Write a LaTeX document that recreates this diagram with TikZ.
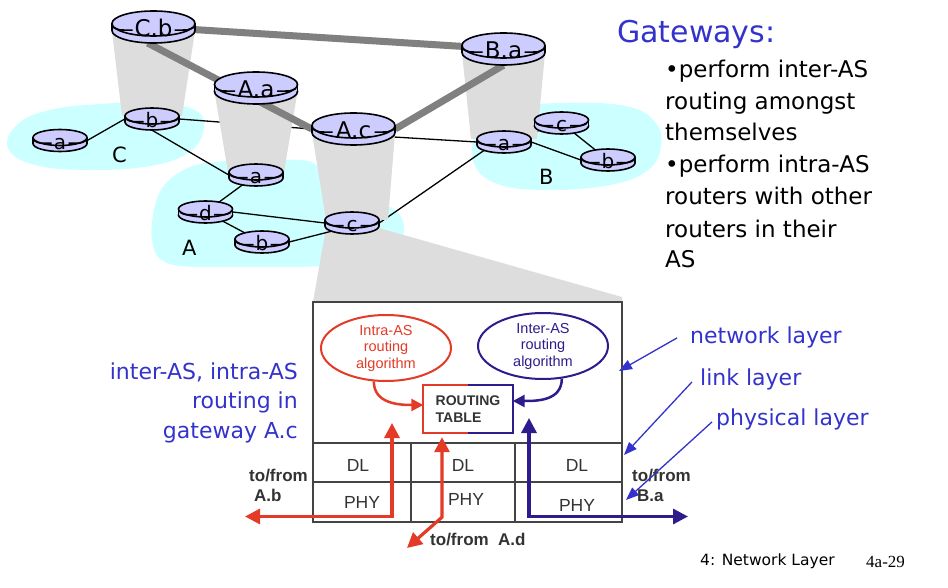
\documentclass[tikz,border=0pt]{standalone}
\usepackage{fontspec}
\setmainfont{DejaVu Sans}
\newfontfamily\boxfont{Liberation Sans}
\newfontfamily\slidefont{Liberation Serif}
\usetikzlibrary{arrows.meta,shapes.geometric,calc}
\pgfdeclarelayer{bg}
\pgfsetlayers{bg,main}

\definecolor{rtrfill}{HTML}{CCCCFF}
\definecolor{asfill}{HTML}{CCFFFF}
\definecolor{conefill}{HTML}{DDDDDD}
\definecolor{trunk}{HTML}{808080}
\definecolor{labelblue}{HTML}{3333CC}
\definecolor{intrared}{HTML}{E33B27}
\definecolor{interpurple}{HTML}{2F1C8C}
\definecolor{boxline}{HTML}{444444}
\definecolor{boxtext}{HTML}{333333}

\tikzset{
  rtrbody/.style={fill=rtrfill, draw=black, line width=1.6pt},
  rtredge/.style={draw=black, line width=1.6pt},
  rtrhit/.style={ellipse, inner sep=0pt, draw=none},
  rtrlabel/.style={font=\fontsize{20}{23}\selectfont, anchor=base, inner sep=0pt},
  aslabel/.style={font=\fontsize{21}{24}\selectfont, anchor=base west, inner sep=0pt},
  link/.style={draw=black, line width=1.3pt},
  trunkline/.style={draw=trunk, line width=7pt},
  boxframe/.style={draw=boxline, line width=2pt},
  algo/.style={ellipse, minimum width=130pt, minimum height=66pt, inner sep=0pt,
    line width=2pt, align=center, font=\boxfont\fontsize{14.5}{16.5}\selectfont},
  rtable/.style={minimum width=89pt, minimum height=48pt, inner sep=0pt, align=left,
    text=boxtext, font=\boxfont\bfseries\fontsize{14}{17}\selectfont},
  layertext/.style={anchor=base, inner sep=0pt, text=boxtext,
    font=\boxfont\fontsize{17.5}{20}\selectfont},
  iolbl/.style={anchor=base west, inner sep=0pt, text=boxtext,
    font=\boxfont\bfseries\fontsize{17}{20}\selectfont},
  redflow/.style={draw=intrared, line width=3.2pt,
    arrows={Triangle[length=15pt,width=15pt]-Triangle[length=15pt,width=15pt]}},
  purpleflow/.style={draw=interpurple, line width=3.2pt,
    arrows={Triangle[length=15pt,width=15pt]-Triangle[length=15pt,width=15pt]}},
  feed/.style={line width=2.5pt, arrows={-Triangle[length=12pt,width=12pt]}},
  pointer/.style={draw=labelblue, line width=1.3pt,
    arrows={-Triangle[length=13pt,width=10pt]}},
  bluetext/.style={text=labelblue, inner sep=0pt, font=\fontsize{22}{25}\selectfont},
  gwtext/.style={anchor=base west, inner sep=0pt, font=\fontsize{23}{26}\selectfont},
}

\newcommand\gwfont{\fontsize{23}{26}\selectfont}
% router disk: name, x, y of top face centre, x radius, y radius, depth,
% label, half gap left for the label, baseline offset below the side walls
\newcommand\rtr[9]{%
  \filldraw[rtrbody] (#2,#3+#6) ellipse ({#4pt} and {#5pt});
  \fill[rtrfill] (#2-#4,#3) rectangle (#2+#4,#3+#6);
  \draw[rtredge] (#2-#4,#3) -- (#2-#4,#3+#6) (#2+#4,#3) -- (#2+#4,#3+#6);
  \filldraw[rtrbody] (#2,#3) ellipse ({#4pt} and {#5pt});
  \draw[rtredge] (#2-#4+1.5,#3+0.8*#6-1.5) .. controls (#2-#4+6,#3+0.8*#6+1) .. (#2-#8,#3+0.8*#6+1)
                 (#2+#8,#3+0.8*#6+1) .. controls (#2+#4-6,#3+0.8*#6+1) .. (#2+#4-1.5,#3+0.8*#6-1.5);
  \node[rtrhit, minimum width={2*#4pt}, minimum height={2*#5pt+#6pt}] (#1) at (#2,#3+#6/2) {};
  \node[rtrlabel] (#1-t) at (#2,#3+#6+#9) {#7};
}
\newcommand\gwrtr[4]{\rtr{#1}{#2}{#3}{41.5}{12.5}{7}{\gwfont #4}{21}{6.5}}
\newcommand\inrtr[4]{\rtr{#1}{#2}{#3}{27}{8}{6}{#4}{8.5}{6}}

\begin{document}
\begin{tikzpicture}[x=1pt,y=-1pt]
\useasboundingbox (0,0) rectangle (948,588);

% gateway routers
\gwrtr{Cb}{153.5}{23.5}{C.b}
\gwrtr{Aa}{256}{84.5}{A.a}
\gwrtr{Ac}{353.5}{125.5}{A.c}
\gwrtr{Ba}{503.5}{45.5}{B.a}
% routers inside each AS
\inrtr{C-a}{60}{137.5}{a}
\inrtr{C-b}{152}{116}{b}
\inrtr{A-a}{256}{172}{a}
\inrtr{A-d}{205.5}{209}{d}
\inrtr{A-b}{262}{239}{b}
\inrtr{A-c}{352}{220}{c}
\inrtr{B-a}{504}{139}{a}
\inrtr{B-c}{561.5}{120}{c}
\inrtr{B-b}{608}{157}{b}

\node[aslabel] (asC) at (112,163) {C};
\node[aslabel] (asA) at (182,255) {A};
\node[aslabel] (asB) at (539,185) {B};

\begin{pgfonlayer}{bg}
  % autonomous systems
  \fill[asfill] plot[smooth cycle, tension=0.7] coordinates {
    (8,148) (18,124) (50,110) (100,104) (160,103) (198,112) (203,132)
    (188,153) (150,166) (90,170) (35,165)};
  \fill[asfill] plot[smooth cycle, tension=0.6] coordinates {
    (152,240) (158,196) (180,172) (215,162) (300,160) (322,170) (360,195)
    (395,210) (404,228) (396,243) (360,258) (320,266) (240,267) (170,264)};
  \fill[asfill] plot[smooth cycle, tension=0.7] coordinates {
    (473,160) (478,128) (498,110) (560,103) (625,106) (655,122) (661,146)
    (648,170) (610,185) (545,190) (495,183)};
  % zoom fan from A.c down to the router detail
  \fill[conefill] (313,302) -- (326,228) -- (379,228) -- (622,297) -- (622,302) -- cycle;
  % intra-AS and gateway links
  \draw[link] (C-a.east) -- (C-b.west);
  \draw[link] (C-b.east) -- (Ac.west);
  \draw[link] (C-b.south) -- (A-a.west);
  \draw[link] (A-a) -- (A-d);
  \draw[link] (A-d.east) -- (A-c.west);
  \draw[link] (A-d) -- (A-b);
  \draw[link] (A-b.east) -- (A-c.south west);
  \draw[link] (A-c.east) -- (B-a.south west);
  \draw[link] (Ac.-12) -- (B-a.west);
  \draw[link] (B-a) -- (B-c);
  \draw[link] (B-a.east) -- (B-b.west);
  \draw[link] (B-c) -- (B-b);
  % gateway cones
  \fill[conefill] (112,31) -- (195,31) -- (182,116) -- (122,116) -- cycle;
  \fill[conefill] (214.5,92) -- (297.5,92) -- (284,172) -- (228,172) -- cycle;
  \fill[conefill] (312,133) -- (395,133) -- (388,220) -- (326,220) -- cycle;
  \fill[conefill] (462,53) -- (545,53) -- (537,139) -- (471,139) -- cycle;
  % inter-AS trunks
  \draw[trunkline] (Cb) -- (Ba);
  \draw[trunkline] (Cb.250) -- (Ac.west);
  \draw[trunkline] (Ac.east) -- (Ba.south);
\end{pgfonlayer}

% gateway notes
\node[anchor=base west, inner sep=0pt, text=labelblue, font=\fontsize{30}{34}\selectfont]
  (gw) at (617,43) {Gateways:};
\node[gwtext] (gw1) at (665,78) {•perform inter-AS};
\node[gwtext] (gw2) at (665,110) {routing amongst};
\node[gwtext] (gw3) at (665,141) {themselves};
\node[gwtext] (gw4) at (665,173) {•perform intra-AS};
\node[gwtext] (gw5) at (665,205) {routers with other};
\node[gwtext] (gw6) at (665,237) {routers in their};
\node[gwtext] (gw7) at (665,268) {AS};

% router detail
\draw[boxframe, fill=white] (313,302) rectangle (622,522);
\draw[boxframe] (313,443) -- (622,443) (313,482) -- (622,482)
                (411,443) -- (411,522) (515,443) -- (515,522);

\node[algo, draw=intrared, text=intrared] (intra) at (386,348) {Intra-AS\\routing\\algorithm};
\node[algo, draw=interpurple, text=interpurple] (inter) at (543,346) {Inter-AS\\routing\\algorithm};
\node[rtable] (rt) at (468,409) {ROUTING\\TABLE};
\draw[intrared, line width=2pt] (rt.north) -- (rt.north west) -- (rt.south west) -- (rt.south);
\draw[interpurple, line width=2pt] (rt.north) -- (rt.north east) -- (rt.south east) -- (rt.south);

\node[layertext] (dl1) at (358,471) {DL};
\node[layertext] (dl2) at (463,471) {DL};
\node[layertext] (dl3) at (577,471) {DL};
\node[layertext] (phy1) at (362,508) {PHY};
\node[layertext] (phy2) at (466,505) {PHY};
\node[layertext] (phy3) at (577,511) {PHY};

\draw[feed, draw=intrared] (intra.250) .. controls +(0,22) and +(-25,0) .. ([yshift=4pt]rt.west);
\draw[feed, draw=interpurple] (inter.300) .. controls +(0,22) and +(25,0) .. ([yshift=8pt]rt.east);

\coordinate (toAb) at (245,516.5);
\coordinate (upAb) at (392,423);
\coordinate (toAd) at (407,548);
\coordinate (upBa) at (529,418);
\coordinate (toBa) at (688,516.5);
\draw[redflow] (toAb) -| (upAb);
\draw[redflow] ([xshift=-26pt,yshift=-4pt]rt.south) -- ++(0,80) -- (toAd);
\draw[purpleflow] (upBa) |- (toBa);

\node[iolbl] (ab1) at (249,481) {to/from};
\node[iolbl] (ab2) at (254,501) {A.b};
\node[iolbl] (ad) at (430,545) {to/from\ \ A.d};
\node[iolbl] (ba1) at (632,481) {to/from};
\node[iolbl] (ba2) at (637,501) {B.a};

% captions
\node[bluetext, anchor=base east] (cap1) at (298,379) {inter-AS, intra-AS};
\node[bluetext, anchor=base east] (cap2) at (298,408) {routing in};
\node[bluetext, anchor=base east] (cap3) at (298,438) {gateway A.c};

\node[bluetext, anchor=base west] (netlbl) at (690,343) {network layer};
\node[bluetext, anchor=base west] (linklbl) at (700,385) {link layer};
\node[bluetext, anchor=base west] (phylbl) at (716,425) {physical layer};
\coordinate (netTip) at (619,371);
\coordinate (linkTip) at (624,455);
\coordinate (phyTip) at (626,500);
\draw[pointer] ([xshift=-13pt,yshift=-1pt]netlbl.west) -- (netTip);
\draw[pointer] ([xshift=-8pt,yshift=-3pt]linklbl.west) -- (linkTip);
\draw[pointer] ([xshift=-4pt,yshift=-3pt]phylbl.west) -- (phyTip);

\node[anchor=base west, inner sep=0pt, font=\fontsize{15.5}{18}\selectfont] (foot) at (700,565) {4: Network Layer};
\node[anchor=base west, inner sep=0pt, font=\slidefont\fontsize{17}{20}\selectfont] (slideno) at (866,567) {4a-29};
\end{tikzpicture}
\end{document}
